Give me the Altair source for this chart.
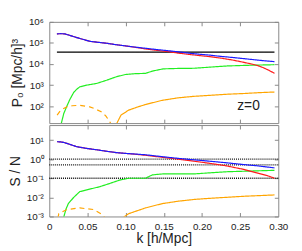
import altair as alt
import pandas as pd

# ---------------- top panel: P0(k) ----------------
k_tot = [0.010, 0.015, 0.020, 0.025, 0.030, 0.036, 0.045, 0.053, 0.063, 0.075,
         0.088, 0.100, 0.113, 0.126, 0.140, 0.155, 0.169, 0.185, 0.200, 0.212,
         0.225, 0.240, 0.255, 0.265, 0.272, 0.280, 0.288, 0.295]
p0_blue = [2.7e5, 2.75e5, 2.7e5, 2.4e5, 2.1e5, 1.8e5, 1.45e5, 1.2e5, 1.08e5, 9.7e4,
           8.2e4, 7.2e4, 6.3e4, 5.6e4, 4.9e4, 4.3e4, 3.8e4, 3.2e4, 2.85e4, 2.6e4,
           2.3e4, 2.05e4, 1.8e4, 1.65e4, 1.55e4, 1.45e4, 1.37e4, 1.3e4]
p0_red = [2.7e5, 2.75e5, 2.7e5, 2.4e5, 2.1e5, 1.8e5, 1.45e5, 1.2e5, 1.08e5, 9.7e4,
          8.2e4, 7.2e4, 6.2e4, 5.2e4, 4.5e4, 3.9e4, 3.3e4, 2.8e4, 2.45e4, 2.2e4,
          1.9e4, 1.55e4, 1.2e4, 1.0e4, 8.7e3, 6.8e3, 5.0e3, 3.6e3]
k_black = [0.010, 0.295]
p0_black = [3.7e4, 3.7e4]
k_green = [0.0150, 0.019, 0.023, 0.027, 0.032, 0.036, 0.040, 0.049, 0.062, 0.075,
           0.088, 0.100, 0.113, 0.126, 0.135, 0.149, 0.170, 0.190, 0.212, 0.233,
           0.260, 0.295]
p0_green = [12, 45, 100, 210, 450, 640, 830, 1000, 1200, 1700,
            2500, 3200, 3500, 3600, 4600, 5900, 6200, 6300, 7200, 8100,
            8700, 9300]
k_orange_neg = [0.0103, 0.015, 0.023, 0.030, 0.040, 0.053, 0.060, 0.068, 0.074, 0.079, 0.082]
p0_orange_neg = [38, 65, 93, 105, 110, 93, 75, 54, 35, 19, 12]
k_orange_pos = [0.0870, 0.094, 0.104, 0.115, 0.126, 0.148, 0.169, 0.190, 0.212,
                0.233, 0.255, 0.275, 0.295]
p0_orange_pos = [12, 38, 65, 90, 120, 190, 250, 295, 330, 370, 400, 440, 470]

# ---------------- bottom panel: S/N ----------------
k_sn = [0.0103, 0.015, 0.019, 0.025, 0.036, 0.048, 0.062, 0.075, 0.088, 0.100,
        0.113, 0.126, 0.148, 0.169, 0.190, 0.212, 0.233, 0.255, 0.272, 0.285, 0.295]
sn_blue = [8.2, 8.0, 7.5, 6.3, 4.5, 3.7, 3.1, 2.6, 2.2, 2.0,
           1.85, 1.7, 1.35, 1.1, 0.92, 0.77, 0.64, 0.52, 0.45, 0.39, 0.35]
sn_red = [8.2, 8.0, 7.5, 6.3, 4.5, 3.7, 3.1, 2.6, 2.2, 2.0,
          1.8, 1.6, 1.25, 1.0, 0.78, 0.59, 0.44, 0.29, 0.19, 0.14, 0.10]
k_sn_green = [0.0185, 0.022, 0.025, 0.032, 0.040, 0.053, 0.066, 0.079, 0.092, 0.104,
              0.126, 0.135, 0.149, 0.190, 0.233, 0.295]
sn_green = [0.0008, 0.0025, 0.0047, 0.010, 0.020, 0.027, 0.036, 0.053, 0.080, 0.100,
            0.100, 0.150, 0.170, 0.170, 0.220, 0.260]
k_sn_orange_neg = [0.0112, 0.0125, 0.023, 0.040, 0.058, 0.070, 0.0735]
sn_orange_neg = [0.0008, 0.0014, 0.0023, 0.0028, 0.0023, 0.0012, 0.0008]
k_sn_orange_pos = [0.0955, 0.104, 0.126, 0.148, 0.169, 0.190, 0.212, 0.255, 0.295]
sn_orange_pos = [0.0008, 0.0014, 0.0028, 0.0047, 0.0063, 0.0078, 0.0090, 0.0114, 0.0134]
sn_levels = [1.0, 0.5, 0.1]

x_ticks = [0.05, 0.10, 0.15, 0.20, 0.25]
y_ticks_top = [1e2, 1e3, 1e4, 1e5, 1e6]
y_ticks_bot = [1e-3, 1e-2, 1e-1, 1e0, 1e1]

series_names = ["1black", "2green", "3orange", "4red", "5blue"]
series_colors = ["#000000", "#22ee22", "#ffa500", "#ff1a1a", "#1a1aff"]


def long_df(parts):
    rows = []
    for name, seg, style, ks, vs in parts:
        for k, v in zip(ks, vs):
            rows.append({"series": name, "seg": seg, "style": style, "k": k, "v": v})
    return pd.DataFrame(rows)


df_top = long_df([
    ("1black", "b", "solid", k_black, p0_black),
    ("2green", "g", "solid", k_green, p0_green),
    ("3orange", "on", "dashed", k_orange_neg, p0_orange_neg),
    ("3orange", "op", "solid", k_orange_pos, p0_orange_pos),
    ("4red", "r", "solid", k_tot, p0_red),
    ("5blue", "bl", "solid", k_tot, p0_blue),
])
df_bot = long_df([
    ("2green", "g", "solid", k_sn_green, sn_green),
    ("3orange", "on", "dashed", k_sn_orange_neg, sn_orange_neg),
    ("3orange", "op", "solid", k_sn_orange_pos, sn_orange_pos),
    ("4red", "r", "solid", k_sn, sn_red),
    ("5blue", "bl", "solid", k_sn, sn_blue),
])

FONT = "Liberation Sans"
FRAME = "#888888"
W = 233

xscale = alt.Scale(domain=[0, 0.3], nice=False, zero=False)
sup = "['10\u207b\u00b3','10\u207b\u00b2','10\u207b\u00b9','10\u2070','10\u00b9','10\u00b2','10\u00b3','10\u2074','10\u2075','10\u2076']"
ylabel_expr = sup + "[round(log(datum.value)/LN10)+3]"


def panel(df, ydomain, yticks, ytitle, height, bottom, extra=None):
    yscale = alt.Scale(type="log", domain=ydomain, nice=False)
    if bottom:
        xaxis = alt.Axis(orient="bottom", values=[0, 0.05, 0.10, 0.15, 0.20, 0.25, 0.30],
                         labels=True, ticks=False, domain=False, grid=False,
                         labelExpr="datum.value == 0 ? '0' : format(datum.value, '.2f')",
                         labelFontSize=10, labelPadding=5, labelFlush=False,
                         title="k [h/Mpc]", titleFontSize=14, titleFontWeight="normal",
                         titlePadding=1, minExtent=0)
    else:
        xaxis = None
    yaxis = alt.Axis(orient="left", values=yticks, ticks=False, domain=False, grid=False,
                     labelExpr=ylabel_expr, labelFontSize=10, labelPadding=6,
                     title=ytitle, titleFontSize=14, titleFontWeight="normal",
                     titlePadding=4)
    lines = alt.Chart(df).mark_line(clip=True, strokeWidth=1.2).encode(
        x=alt.X("k:Q", scale=xscale, axis=xaxis),
        y=alt.Y("v:Q", scale=yscale, axis=yaxis),
        color=alt.Color("series:N", scale=alt.Scale(domain=series_names, range=series_colors), legend=None),
        strokeDash=alt.StrokeDash("style:N", scale=alt.Scale(domain=["solid", "dashed"], range=[[1, 0], [5, 4]]), legend=None),
        detail="seg:N",
    )

    def tick_layer(ox, oy):
        return alt.Chart(df).mark_point(opacity=0, clip=True, size=1).encode(
            x=alt.X("k:Q", scale=xscale, axis=alt.Axis(orient=ox, values=x_ticks, labels=False, domain=False,
                                                         grid=False, ticks=True, tickSize=4, offset=-4,
                                                         tickColor=FRAME, title=None, minExtent=0,
                                                         labelPadding=0)),
            y=alt.Y("v:Q", scale=yscale, axis=alt.Axis(orient=oy, values=yticks, labels=False, domain=False,
                                                         grid=False, ticks=True, tickSize=4, offset=-4,
                                                         tickColor=FRAME, title=None, minExtent=0,
                                                         labelPadding=0)),
        )

    layers = [lines]
    if extra is not None:
        layers = [extra(yscale)] + layers
    layers += [tick_layer("top", "right"), tick_layer("bottom", "left")]
    return alt.layer(*layers).resolve_axis(x="independent", y="independent").properties(width=W, height=height)


def zlabel(yscale):
    return alt.Chart(pd.DataFrame({"k": [0.261], "v": [100], "t": ["z=0"]})).mark_text(
        font=FONT, fontSize=14, align="center", baseline="middle", color="#222222"
    ).encode(x=alt.X("k:Q", scale=xscale, axis=None), y=alt.Y("v:Q", scale=yscale, axis=None), text="t:N")


def levels(yscale):
    return alt.Chart(pd.DataFrame({"v": sn_levels})).mark_rule(
        color="#111111", strokeDash=[1, 1], strokeWidth=1.3
    ).encode(y=alt.Y("v:Q", scale=yscale, axis=None))


top = panel(df_top, [15.8, 1e6], y_ticks_top, "P\u2080 [Mpc/h]\u00b3", 103, False, zlabel)
bot = panel(df_bot, [1e-3, 61], y_ticks_bot, "S / N", 93, True, levels)

chart = alt.vconcat(top, bot, spacing=0).properties(
    padding={"left": 0, "top": 6, "right": 5, "bottom": 0}
).configure_view(stroke=FRAME, strokeWidth=1).configure_axis(
    labelFont=FONT, titleFont=FONT, labelColor="#222222", titleColor="#222222"
).configure_text(font=FONT)

chart.save("out.html", embed_options={"renderer": "svg", "actions": False})
